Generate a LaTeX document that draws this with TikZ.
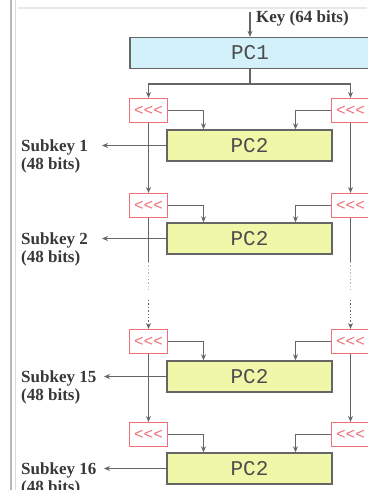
\documentclass[tikz,border=0pt]{standalone}
\usepackage{fontspec}
\setmainfont{Liberation Serif}
\setmonofont{Liberation Mono}
\usetikzlibrary{arrows.meta}
\definecolor{pcblue}{HTML}{D2F1FA}
\definecolor{pcyellow}{HTML}{F1F7A9}
\definecolor{wire}{HTML}{666666}
\definecolor{shiftred}{HTML}{EE6F78}
\definecolor{txtgray}{HTML}{383838}
\tikzset{
  pcbox/.style={draw=wire, line width=1.4pt, minimum height=31pt, inner sep=0pt,
    font=\ttfamily\fontsize{21}{21}\selectfont, text=txtgray!90},
  shiftbox/.style={draw=shiftred, line width=1.1pt, fill=white, minimum width=38pt,
    minimum height=24pt, inner sep=0pt, text=shiftred, font=\ttfamily\fontsize{16}{16}\selectfont},
  arr/.style={draw=wire, line width=1.4pt, -{Stealth[length=6pt,width=5pt]}},
  wireline/.style={draw=wire, line width=1.4pt},
  lbl/.style={font=\bfseries\fontsize{17}{18}\selectfont, text=txtgray, inner sep=0pt}
}
\begin{document}
\begin{tikzpicture}[x=1pt, y=-1pt]
  \useasboundingbox (0,0) rectangle (367,490);
  % page frame
  \draw[gray!55, line width=1.6pt] (11,0) -- (11,490);
  \draw[gray!30, line width=1.6pt] (15.5,0) -- (15.5,490);
  \draw[gray!18, line width=1.2pt] (18,8) -- (367,8);
  % key and PC1
  \coordinate (kin) at (250,12);
  \node[lbl, anchor=west] (key) at (256,18) {Key (64 bits)};
  \node[pcbox, fill=pcblue, minimum width=240pt] (pc1) at (250,53) {PC1};
  \draw[arr] (kin) -- (pc1.north);
  \coordinate (split) at (250,84);
  \node[shiftbox] (sl1) at (148.5,110.5) {<<<};
  \node[shiftbox] (sr1) at (350.5,110.5) {<<<};
  \draw[wireline] (pc1.south) -- (split);
  \draw[arr] (split) -| (sl1.north);
  \draw[arr] (split) -| (sr1.north);
  % round 1
  \node[pcbox, fill=pcyellow, minimum width=165pt] (p1) at (249.5,145.5) {PC2};
  \draw[arr] (sl1.east) -| ([xshift=-46pt]p1.north);
  \draw[arr] (sr1.west) -| ([xshift=46pt]p1.north);
  \coordinate (t1) at (102,145.5);
  \node[lbl, anchor=north west, align=left] (sk1) at (21,139.5) {Subkey 1\\(48 bits)};
  % round 2
  \node[shiftbox] (sl2) at (148.5,205.5) {<<<};
  \node[shiftbox] (sr2) at (350.5,205.5) {<<<};
  \node[pcbox, fill=pcyellow, minimum width=165pt] (p2) at (249.5,238.5) {PC2};
  \draw[arr] (sl2.east) -| ([xshift=-46pt]p2.north);
  \draw[arr] (sr2.west) -| ([xshift=46pt]p2.north);
  \coordinate (t2) at (102,238.5);
  \node[lbl, anchor=north west, align=left] (sk2) at (21,232.5) {Subkey 2\\(48 bits)};
  % round 15
  \node[shiftbox] (sl15) at (148.5,341.5) {<<<};
  \node[shiftbox] (sr15) at (350.5,341.5) {<<<};
  \node[pcbox, fill=pcyellow, minimum width=165pt] (p15) at (249.5,376.5) {PC2};
  \draw[arr] (sl15.east) -| ([xshift=-46pt]p15.north);
  \draw[arr] (sr15.west) -| ([xshift=46pt]p15.north);
  \coordinate (t15) at (104,376.5);
  \node[lbl, anchor=north west, align=left] (sk15) at (21,370.5) {Subkey 15\\(48 bits)};
  % round 16
  \node[shiftbox] (sl16) at (148.5,434.5) {<<<};
  \node[shiftbox] (sr16) at (350.5,434.5) {<<<};
  \node[pcbox, fill=pcyellow, minimum width=165pt] (p16) at (249.5,468.5) {PC2};
  \draw[arr] (sl16.east) -| ([xshift=-46pt]p16.north);
  \draw[arr] (sr16.west) -| ([xshift=46pt]p16.north);
  \coordinate (t16) at (104,468.5);
  \node[lbl, anchor=north west, align=left] (sk16) at (21,462.5) {Subkey 16\\(48 bits)};
  % left and right chains
  \draw[arr] (sl1.south) -- (sl2.north);
  \draw[arr] (sr1.south) -- (sr2.north);
  \draw[arr] (sl15.south) -- (sl16.north);
  \draw[arr] (sr15.south) -- (sr16.north);
  \coordinate (gl1) at (148.5,262); \coordinate (gl2) at (148.5,290); \coordinate (gl3) at (148.5,300);
  \coordinate (gr1) at (350.5,262); \coordinate (gr2) at (350.5,290); \coordinate (gr3) at (350.5,300);
  \draw[wireline] (sl2.south) -- (gl1);
  \draw[wireline] (sr2.south) -- (gr1);
  \draw[wireline, gray!60, dotted] (gl1) -- (gl2);
  \draw[wireline, gray!60, dotted] (gr1) -- (gr2);
  \draw[arr, dotted] (gl3) -- (sl15.north);
  \draw[arr, dotted] (gr3) -- (sr15.north);
  % subkey outputs
  \draw[arr] (p1.west) -- (t1);
  \draw[arr] (p2.west) -- (t2);
  \draw[arr] (p15.west) -- (t15);
  \draw[arr] (p16.west) -- (t16);
\end{tikzpicture}
\end{document}
